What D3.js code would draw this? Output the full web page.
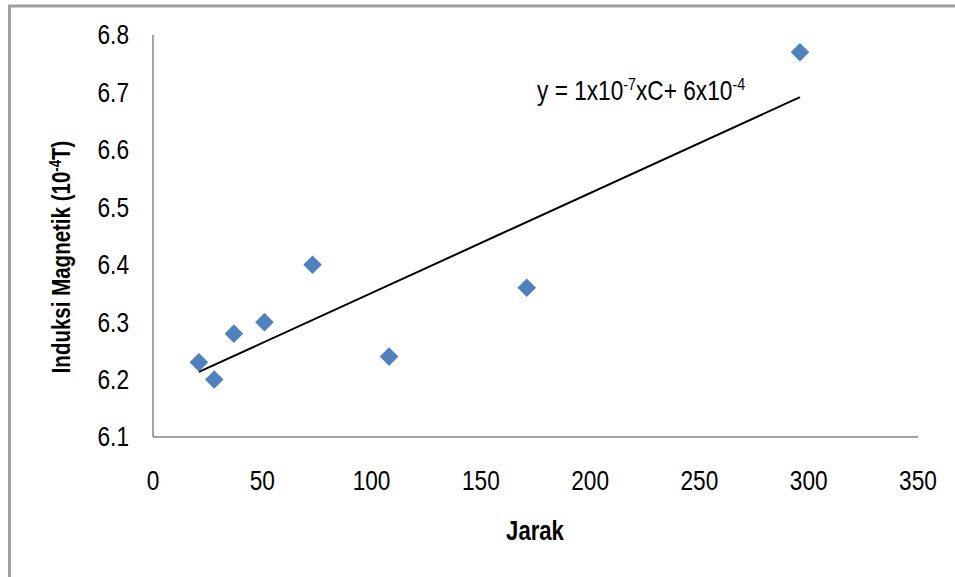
<!DOCTYPE html>
<meta charset="utf-8">
<style>
body { margin: 0; background: #fff; }
.tick-label { font: 27px "Liberation Sans", Arial, sans-serif; fill: #000; }
.axis-title { font: bold 27px "Liberation Sans", Arial, sans-serif; fill: #000; }
.eq { font: 27px "Liberation Sans", Arial, sans-serif; fill: #000; }
</style>
<svg width="955" height="577"></svg>
<script src="https://cdn.jsdelivr.net/npm/d3@7"></script>
<script>

var jarak = [21, 28, 37, 51, 73, 108, 171, 296];
var induksi = [6.23, 6.20, 6.28, 6.30, 6.40, 6.24, 6.36, 6.77];
var xTicks = [0, 50, 100, 150, 200, 250, 300, 350];
var yTicks = [6.1, 6.2, 6.3, 6.4, 6.5, 6.6, 6.7, 6.8];

var narrow = 0.84; // squeeze text to look like a narrow face

var svg = d3.select("svg");

// outer chart frame (cut off on right and bottom)
svg.append("rect")
    .attr("x", 9.5).attr("y", 6)
    .attr("width", 1000).attr("height", 700)
    .attr("fill", "none")
    .attr("stroke", "#a0a0a0")
    .attr("stroke-width", 3);

var x = d3.scaleLinear().domain([0, 350]).range([153, 918]);
var y = d3.scaleLinear().domain([6.1, 6.8]).range([437, 35]);

// axis lines
svg.append("line")
    .attr("x1", x(0)).attr("x2", x(0))
    .attr("y1", y(6.8)).attr("y2", y(6.1))
    .attr("stroke", "#868686").attr("stroke-width", 1.5);
svg.append("line")
    .attr("x1", x(0)).attr("x2", x(350))
    .attr("y1", y(6.1)).attr("y2", y(6.1))
    .attr("stroke", "#868686").attr("stroke-width", 1.5);

svg.selectAll(".ylab")
  .data(yTicks)
  .enter().append("text")
    .attr("class", "tick-label")
    .attr("transform", function(d) { return "translate(129," + y(d) + ") scale(" + narrow + ",1)"; })
    .attr("dy", "0.35em")
    .attr("text-anchor", "end")
    .text(function(d) { return d.toFixed(1); });

svg.selectAll(".xlab")
  .data(xTicks)
  .enter().append("text")
    .attr("class", "tick-label")
    .attr("transform", function(d) { return "translate(" + x(d) + ",481) scale(" + narrow + ",1)"; })
    .attr("dy", "0.35em")
    .attr("text-anchor", "middle")
    .text(function(d) { return d; });

// titles
svg.append("text")
    .attr("class", "axis-title")
    .attr("transform", "translate(535,531) scale(0.82,1)")
    .attr("dy", "0.35em")
    .attr("text-anchor", "middle")
    .text("Jarak");

var yt = svg.append("text")
    .attr("class", "axis-title")
    .attr("transform", "translate(61,257) rotate(-90) scale(0.82,1)")
    .attr("dy", "0.35em")
    .style("font-size", "25px")
    .attr("text-anchor", "middle");
yt.append("tspan").text("Induksi Magnetik (10");
yt.append("tspan").attr("dy", "-9px").style("font-size", "16px").text("-4");
yt.append("tspan").attr("dy", "9px").text("T)");

// linear trendline (least squares)
var mx = d3.mean(jarak), my = d3.mean(induksi);
var sxy = d3.sum(jarak, function(d, i) { return (d - mx) * (induksi[i] - my); });
var sxx = d3.sum(jarak, function(d) { return (d - mx) * (d - mx); });
var slope = sxy / sxx, icpt = my - slope * mx;
var xr = d3.extent(jarak);

svg.append("line")
    .attr("x1", x(xr[0])).attr("y1", y(icpt + slope * xr[0]))
    .attr("x2", x(xr[1])).attr("y2", y(icpt + slope * xr[1]))
    .attr("stroke", "#000").attr("stroke-width", 2);

// points
svg.selectAll(".pt")
  .data(jarak)
  .enter().append("path")
    .attr("class", "pt")
    .attr("d", d3.symbol().type(d3.symbolDiamond2).size(220))
    .attr("transform", function(d, i) { return "translate(" + x(d) + "," + y(induksi[i]) + ")"; })
    .attr("fill", "#4f81bd");

// equation
var eq = svg.append("text")
    .attr("class", "eq")
    .attr("transform", "translate(537,100) scale(" + narrow + ",1)");
eq.append("tspan").text("y = 1x10");
eq.append("tspan").attr("dy", "-10px").style("font-size", "17px").text("-7");
eq.append("tspan").attr("dy", "10px").text("xC+ 6x10");
eq.append("tspan").attr("dy", "-10px").style("font-size", "17px").text("-4");

</script>
